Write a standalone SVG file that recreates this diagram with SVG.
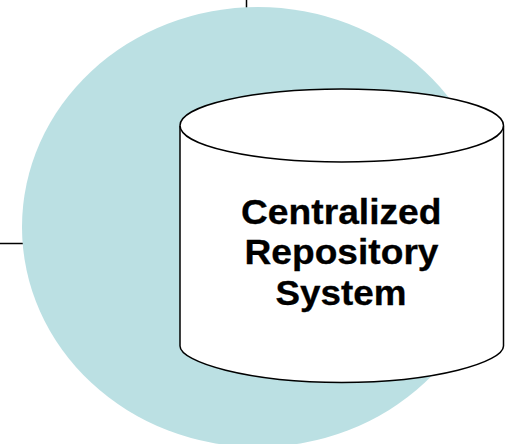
<svg xmlns="http://www.w3.org/2000/svg" width="511" height="444" viewBox="0 0 511 444">
<style>
.stroke{fill:#fff;stroke:#000;stroke-width:1.5}
.conn{fill:none;stroke:#000;stroke-width:1.5}
text{font-family:"Liberation Sans",Arial,sans-serif;font-weight:700;font-size:34.500px;fill:#000;stroke:#000;stroke-width:.3}
</style>
<g id="connectors">
<path class="conn" d="M246.500 0V10"/>
<path class="conn" d="M0 243.500H25"/>
</g>
<g id="circle"><ellipse cx="258" cy="227" rx="236" ry="220" fill="#bbe0e3"/></g>
<g id="repository">
<path class="stroke" d="M180 126V346C180 362 248 382.500 341.750 382.500C435.500 382.500 503.500 362 503.500 346V126"/>
<ellipse class="stroke" cx="341.750" cy="125.500" rx="161.750" ry="36.500"/>
<text x="241" y="224" textLength="200.500" lengthAdjust="spacingAndGlyphs">Centralized</text>
<text x="244.500" y="264" textLength="194" lengthAdjust="spacingAndGlyphs">Repository</text>
<text x="275.500" y="305" textLength="131" lengthAdjust="spacingAndGlyphs">System</text>
</g>
</svg>
